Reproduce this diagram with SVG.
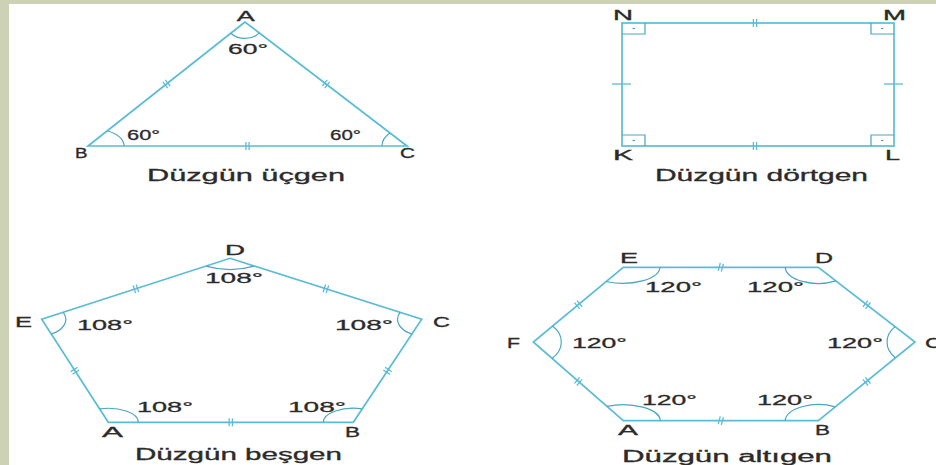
<svg xmlns="http://www.w3.org/2000/svg" xmlns:xlink="http://www.w3.org/1999/xlink" width="936" height="465" viewBox="0 0 936 465">
<defs>
<style>
.poly{fill:none;stroke:#5bbcd6;stroke-width:1.7;stroke-linejoin:miter}
.arc{fill:none;stroke:#4aa6c0;stroke-width:1.2}
.tk{fill:none;stroke:#5bbcd6;stroke-width:1.3}
.lbl{font-family:"Liberation Sans",Arial,sans-serif;font-size:15px;fill:#2b2b2b;stroke:#2b2b2b;stroke-width:0.35}
.ang{font-family:"Liberation Sans",Arial,sans-serif;font-size:15px;fill:#2b2b2b;stroke:#2b2b2b;stroke-width:0.3}
.cap{font-family:"Liberation Sans",Arial,sans-serif;font-size:16px;fill:#2b2b2b;stroke:#2b2b2b;stroke-width:0.3}
</style>
<g id="t2"><line x1="-1.6" y1="-4" x2="-1.6" y2="4"/><line x1="1.6" y1="-4" x2="1.6" y2="4"/></g>
</defs>
<rect x="0" y="0" width="936" height="465" fill="#ffffff"/>
<rect x="0" y="0" width="936" height="4" fill="#cdd1b6"/>
<rect x="0" y="0" width="9" height="465" fill="#cdd1b6"/>

<g id="triangle">
<polygon class="poly" points="245,22 88,146 407,146"/>
<path class="arc" d="M230.9 33.2 A18 14 0 0 0 259.3 32.9"/>
<path class="arc" d="M107.2 130.8 A36 18 0 0 1 124 146"/>
<path class="arc" d="M382 146 A25 18 0 0 1 389.9 132.9"/>
<g class="tk">
<use xlink:href="#t2" transform="translate(166.5,84) rotate(-38.3)"/>
<use xlink:href="#t2" transform="translate(326,84) rotate(37.4)"/>
<use xlink:href="#t2" transform="translate(247.5,146)"/>
</g>
<text class="lbl" x="236.7" y="20.5" textLength="18" lengthAdjust="spacingAndGlyphs">A</text>
<text class="lbl" x="75" y="158" textLength="12.5" lengthAdjust="spacingAndGlyphs">B</text>
<text class="lbl" x="400" y="158" textLength="15" lengthAdjust="spacingAndGlyphs">C</text>
<text class="ang" x="228" y="54" textLength="40" lengthAdjust="spacingAndGlyphs">60°</text>
<text class="ang" x="127" y="140" textLength="33" lengthAdjust="spacingAndGlyphs">60°</text>
<text class="ang" x="330" y="140" textLength="31" lengthAdjust="spacingAndGlyphs">60°</text>
<text class="cap" x="147" y="181" textLength="198" lengthAdjust="spacingAndGlyphs">Düzgün üçgen</text>
</g>

<g id="square">
<rect class="poly" x="622" y="23" width="272" height="123"/>
<g class="arc">
<path d="M622 34 H645 V23"/>
<path d="M894 34 H871 V23"/>
<path d="M622 135 H645 V146"/>
<path d="M894 135 H871 V146"/>
<line x1="632.5" y1="28.5" x2="635" y2="28.5"/>
<line x1="881" y1="28.5" x2="883.5" y2="28.5"/>
<line x1="632.5" y1="140.5" x2="635" y2="140.5"/>
<line x1="881" y1="140.5" x2="883.5" y2="140.5"/>
</g>
<g class="tk">
<use xlink:href="#t2" transform="translate(755,23)"/>
<use xlink:href="#t2" transform="translate(755,146)"/>
<line x1="612" y1="84" x2="631" y2="84"/>
<line x1="884" y1="84" x2="903" y2="84"/>
</g>
<text class="lbl" x="613" y="20" textLength="20" lengthAdjust="spacingAndGlyphs">N</text>
<text class="lbl" x="883" y="20" textLength="23" lengthAdjust="spacingAndGlyphs">M</text>
<text class="lbl" x="613" y="160" textLength="20" lengthAdjust="spacingAndGlyphs">K</text>
<text class="lbl" x="885" y="160" textLength="15" lengthAdjust="spacingAndGlyphs">L</text>
<text class="cap" x="655" y="181" textLength="213" lengthAdjust="spacingAndGlyphs">Düzgün dörtgen</text>
</g>

<g id="pentagon">
<polygon class="poly" points="230,258.3 421.7,319.3 353.3,422.3 108.3,422.3 41.7,319.3"/>
<path class="arc" d="M206 266.1 Q230 273 254 266.1"/>
<path class="arc" d="M63.3 312.3 A24 16 0 0 1 51.2 334"/>
<path class="arc" d="M400.1 312.3 A24 16 0 0 0 412 334"/>
<path class="arc" d="M99.6 408.9 A30 14 0 0 1 138.3 422.3"/>
<path class="arc" d="M323.3 422.3 A30 14 0 0 1 362.2 408.9"/>
<g class="tk">
<use xlink:href="#t2" transform="translate(135.9,288.8) rotate(-18)"/>
<use xlink:href="#t2" transform="translate(325.9,288.8) rotate(18)"/>
<use xlink:href="#t2" transform="translate(75,370.8) rotate(57.1)"/>
<use xlink:href="#t2" transform="translate(387.5,370.8) rotate(-56.4)"/>
<use xlink:href="#t2" transform="translate(230.8,422.3)"/>
</g>
<text class="lbl" x="225" y="255" textLength="20" lengthAdjust="spacingAndGlyphs">D</text>
<text class="lbl" x="15" y="327" textLength="17" lengthAdjust="spacingAndGlyphs">E</text>
<text class="lbl" x="433" y="327" textLength="17" lengthAdjust="spacingAndGlyphs">C</text>
<text class="lbl" x="102" y="437" textLength="21" lengthAdjust="spacingAndGlyphs">A</text>
<text class="lbl" x="345" y="437" textLength="15" lengthAdjust="spacingAndGlyphs">B</text>
<text class="ang" x="205" y="283" textLength="58" lengthAdjust="spacingAndGlyphs">108°</text>
<text class="ang" x="77" y="330" textLength="56" lengthAdjust="spacingAndGlyphs">108°</text>
<text class="ang" x="335" y="330" textLength="58" lengthAdjust="spacingAndGlyphs">108°</text>
<text class="ang" x="137" y="412" textLength="56" lengthAdjust="spacingAndGlyphs">108°</text>
<text class="ang" x="288" y="412" textLength="58" lengthAdjust="spacingAndGlyphs">108°</text>
<text class="cap" x="135" y="460" textLength="207" lengthAdjust="spacingAndGlyphs">Düzgün beşgen</text>
</g>

<g id="hexagon">
<polygon class="poly" points="623.3,267.3 818.3,267.3 915,342 818.3,420.7 623.3,420.7 533.3,342"/>
<path class="arc" d="M660 267.3 A37 16 0 0 1 606.2 281.5"/>
<path class="arc" d="M785.3 267.3 A33 16 0 0 0 835.9 280.9"/>
<path class="arc" d="M552.5 326 A28 22 0 0 1 552 358.4"/>
<path class="arc" d="M895.1 326.6 A28 22 0 0 0 895.5 357.8"/>
<path class="arc" d="M606.9 406.4 A37 16 0 0 1 660.3 420.7"/>
<path class="arc" d="M785.3 420.7 A33 16 0 0 1 835.2 406.9"/>
<g class="tk">
<use xlink:href="#t2" transform="translate(720.8,267.3) rotate(15)"/>
<use xlink:href="#t2" transform="translate(866.7,304.7) rotate(37.7)"/>
<use xlink:href="#t2" transform="translate(866.7,381.4) rotate(-39.1)"/>
<use xlink:href="#t2" transform="translate(720.8,420.7) rotate(15)"/>
<use xlink:href="#t2" transform="translate(578.3,381.4) rotate(41.2)"/>
<use xlink:href="#t2" transform="translate(578.3,304.7) rotate(-39.7)"/>
</g>
<text class="lbl" x="620" y="263" textLength="18" lengthAdjust="spacingAndGlyphs">E</text>
<text class="lbl" x="815" y="263" textLength="18" lengthAdjust="spacingAndGlyphs">D</text>
<text class="lbl" x="507" y="348" textLength="13" lengthAdjust="spacingAndGlyphs">F</text>
<text class="lbl" x="925" y="348" textLength="17" lengthAdjust="spacingAndGlyphs">C</text>
<text class="lbl" x="618" y="435" textLength="20" lengthAdjust="spacingAndGlyphs">A</text>
<text class="lbl" x="815" y="435" textLength="15" lengthAdjust="spacingAndGlyphs">B</text>
<text class="ang" x="645" y="292" textLength="57" lengthAdjust="spacingAndGlyphs">120°</text>
<text class="ang" x="747" y="292" textLength="57" lengthAdjust="spacingAndGlyphs">120°</text>
<text class="ang" x="572" y="348" textLength="55" lengthAdjust="spacingAndGlyphs">120°</text>
<text class="ang" x="827" y="348" textLength="56" lengthAdjust="spacingAndGlyphs">120°</text>
<text class="ang" x="642" y="405" textLength="55" lengthAdjust="spacingAndGlyphs">120°</text>
<text class="ang" x="757" y="405" textLength="56" lengthAdjust="spacingAndGlyphs">120°</text>
<text class="cap" x="622" y="462" textLength="210" lengthAdjust="spacingAndGlyphs">Düzgün altıgen</text>
</g>
</svg>
